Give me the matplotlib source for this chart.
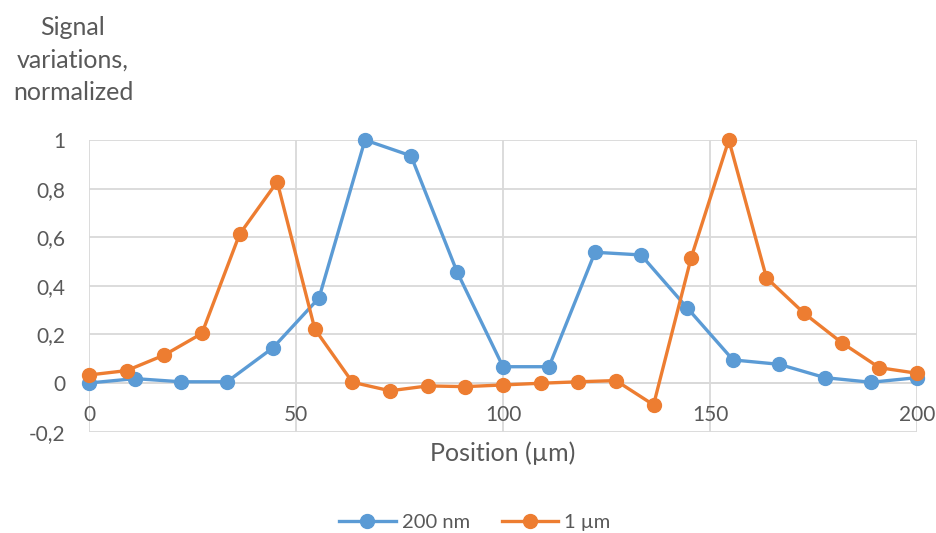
import numpy as np
import matplotlib
matplotlib.use("Agg")
import matplotlib.pyplot as plt
from matplotlib.ticker import FuncFormatter

plt.rcParams['font.family'] = ['Lato', 'DejaVu Sans']

# 200 nm series (19 points, 0..200)
x_200nm = np.linspace(0, 200, 19)
y_200nm = [0.0, 0.018, 0.005, 0.005, 0.145, 0.35, 1.0, 0.935, 0.458, 0.067,
           0.067, 0.538, 0.527, 0.31, 0.095, 0.077, 0.022, 0.003, 0.022]

# 1 um series (23 points, 0..200)
x_1um = np.linspace(0, 200, 23)
y_1um = [0.033, 0.051, 0.115, 0.204, 0.612, 0.828, 0.222, 0.003, -0.032, -0.012,
         -0.015, -0.008, -0.001, 0.005, 0.010, -0.09, 0.516, 1.0, 0.433, 0.287,
         0.166, 0.063, 0.04]

series_labels = ['200 nm', '1 µm']
x_ticks = [0, 50, 100, 150, 200]
y_ticks = [-0.2, 0, 0.2, 0.4, 0.6, 0.8, 1.0]

blue = '#5B9BD5'
orange = '#ED7D31'
txt = '#595959'
grid = '#D9D9D9'

fig = plt.figure(figsize=(9.37, 5.33), dpi=100)
ax = fig.add_axes([89/937, 1 - 431.6/533, 828/937, 291.6/533])

ax.plot(x_200nm, y_200nm, color=blue, lw=2.4, marker='o', ms=10,
        label=series_labels[0], clip_on=False, zorder=3)
ax.plot(x_1um, y_1um, color=orange, lw=2.4, marker='o', ms=10,
        label=series_labels[1], clip_on=False, zorder=4)

ax.set_xlim(0, 200)
ax.set_ylim(-0.2, 1.0)
ax.set_xticks(x_ticks)
ax.set_yticks(y_ticks)
ax.grid(True, color=grid, lw=1.3)
ax.set_axisbelow(True)

fmt = FuncFormatter(lambda v, p: ('%g' % round(v, 1)).replace('.', ','))
ax.yaxis.set_major_formatter(fmt)

for s in ['top', 'right', 'left']:
    ax.spines[s].set_visible(False)
ax.spines['bottom'].set_position(('data', 0))
ax.spines['bottom'].set_color(grid)
ax.spines['bottom'].set_linewidth(1.3)

ax.tick_params(axis='both', length=0, labelsize=15, colors=txt)
ax.tick_params(axis='x', pad=16)
ax.tick_params(axis='y', pad=17)

fig.text(503/937, 1 - 453/533, 'Position (µm)', ha='center', va='center',
         fontsize=18, color=txt)

for yy, line in zip([35, 68, 100], ['Signal', 'variations,', 'normalized']):
    fig.text(73/937, 1 - yy/533, line, ha='center', va='baseline',
             fontsize=18, color=txt)

leg = fig.legend(loc='center', bbox_to_anchor=(475/937, 1 - 522/533), ncol=2,
                 frameon=False, fontsize=14.5, handlelength=2.8,
                 columnspacing=1.6, handletextpad=0.3)
for t in leg.get_texts():
    t.set_color(txt)

fig.savefig('out.png', dpi=100)
